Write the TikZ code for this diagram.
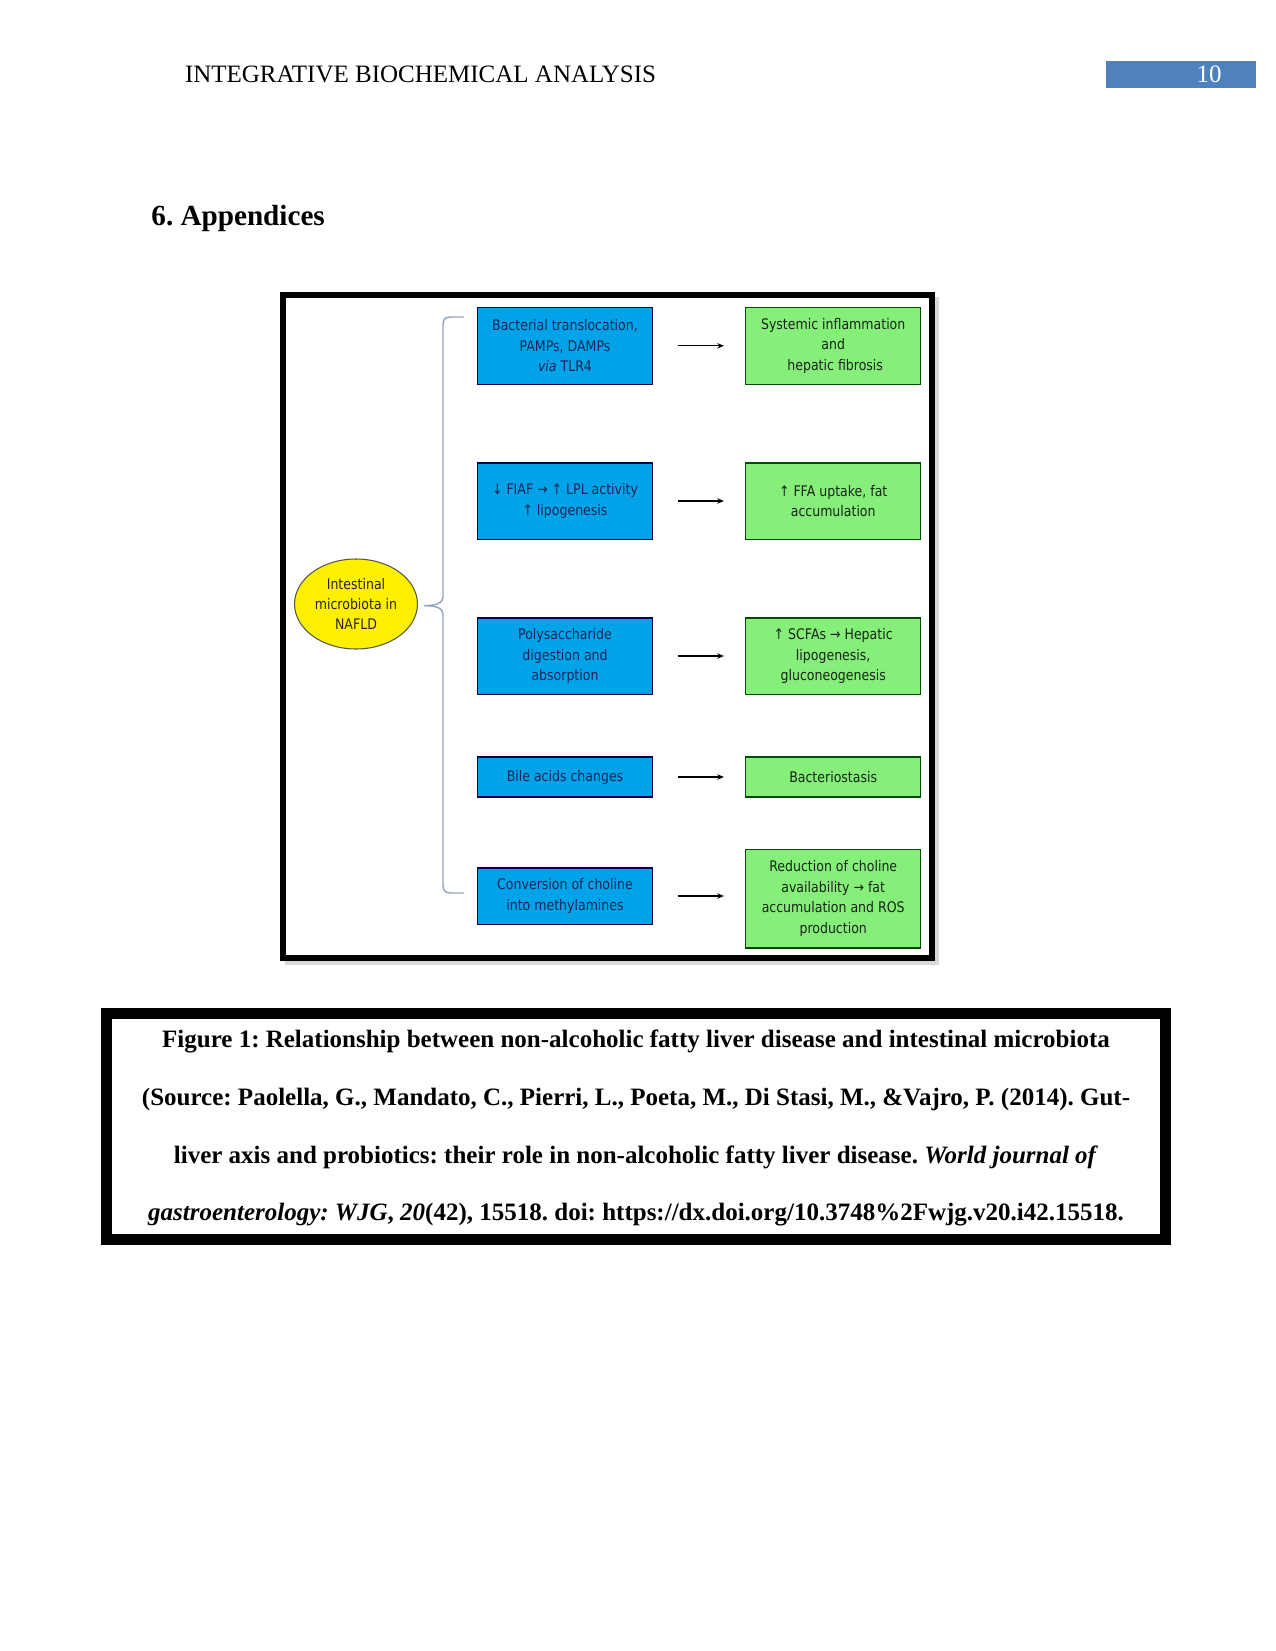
\documentclass[tikz,border=0pt]{standalone}
\usepackage{fontspec}
\setmainfont{Liberation Serif}
\newfontfamily\boxfont{DejaVu Sans}[FakeStretch=0.86]
\usetikzlibrary{shapes.geometric,arrows.meta}
\definecolor{boxblue}{RGB}{0,162,232}
\definecolor{boxgreen}{RGB}{134,239,122}
\definecolor{bluetext}{RGB}{24,38,88}
\definecolor{greentext}{RGB}{22,36,22}
\definecolor{hdrblue}{RGB}{79,129,189}
\definecolor{bracegray}{RGB}{150,165,190}
\definecolor{ellyellow}{RGB}{255,240,0}
\frenchspacing
\begin{document}
\begin{tikzpicture}[x=0.48pt,y=-0.48pt,
  boxtext/.style={font=\boxfont\fontsize{7.0}{9.8}\selectfont, align=center, inner sep=0pt},
  bluebox/.style={boxtext, draw=black!70!blue, line width=0.5pt, fill=boxblue, text=bluetext, minimum width=84pt},
  greenbox/.style={boxtext, draw=black!70!green, line width=0.5pt, fill=boxgreen, text=greentext, minimum width=83.8pt},
  arr/.style={-{Stealth[length=3.2pt,width=2.6pt]}, line width=0.6pt, shorten <=11.8pt, shorten >=10.3pt},
  captext/.style={font=\fontsize{12}{14}\selectfont\bfseries, anchor=base, inner sep=0pt}
]
\fill[white] (0,0) rectangle (1275,1651);
\useasboundingbox (0,0) rectangle (1275,1651);

% header
\node[anchor=base west, inner sep=0pt, font=\fontsize{12}{14}\selectfont] (hdr) at (184.6,82.7) {INTEGRATIVE BIOCHEMICAL ANALYSIS};
\fill[hdrblue] (1106,61) rectangle (1255.7,88.3);
\node[anchor=base, inner sep=0pt, text=white, font=\fontsize{12}{14}\selectfont] (pg) at (1209,82.7) {10};

% section title
\node[anchor=base west, inner sep=0pt, font=\fontsize{14}{16}\selectfont\bfseries] (sec) at (151,226) {6. Appendices};

% figure frame with shadow
\fill[black!15] (285,297) rectangle (939,965);
\draw[line width=2.88pt, fill=white] (283,295) rectangle (932,958);

% central ellipse
\node[ellipse, draw=black!75!yellow, line width=0.5pt, fill=ellyellow, minimum width=59pt, minimum height=43.2pt, inner sep=0pt, font=\boxfont\fontsize{7.0}{9.8}\selectfont, align=center, text=black!85] (ell) at (356,604) {Intestinal\\microbiota in\\NAFLD};

% brace
\draw[bracegray, line width=0.7pt] (464,317) -- (451,317) .. controls (445,317) and (443,319) .. (443,325) -- (443,597) .. controls (443,603) and (436,605.7) .. (424,605.7) .. controls (436,605.7) and (443,608) .. (443,614) -- (443,885) .. controls (443,891) and (445,893) .. (451,893) -- (464,893);

% boxes
\node[bluebox, minimum height=36.8pt] (b1) at (565,345.8) {Bacterial translocation,\\PAMPs, DAMPs\\\textit{via} TLR4};
\node[greenbox, minimum height=36.8pt] (g1) at (833.2,345.8) {Systemic inflammation\\and\\\ hepatic fibrosis};

\node[bluebox, minimum height=36.5pt] (b2) at (565,501) {↓ FIAF → ↑ LPL activity\\↑ lipogenesis};
\node[greenbox, minimum height=36.5pt] (g2) at (833.2,501) {↑ FFA uptake, fat\\accumulation};

\node[bluebox, minimum height=36.5pt] (b3) at (565,656) {Polysaccharide\\digestion and\\absorption};
\node[greenbox, minimum height=36.5pt] (g3) at (833.2,656) {↑ SCFAs → Hepatic\\lipogenesis,\\gluconeogenesis};

\node[bluebox, minimum height=19.2pt] (b4) at (565,777) {Bile acids changes};
\node[greenbox, minimum height=19.2pt] (g4) at (833.2,777) {Bacteriostasis};

\node[bluebox, minimum height=26.9pt] (b5) at (565,896) {Conversion of choline\\into methylamines};
\node[greenbox, minimum height=47.5pt] (g5) at (833.2,898.5) {Reduction of choline\\availability → fat\\accumulation and ROS\\production};

% arrows
\draw[arr] (b1) -- (g1);
\draw[arr] (b2) -- (g2);
\draw[arr] (b3) -- (g3);
\draw[arr] (b4) -- (g4);
\draw[arr] (b5.east) -- (b5.east -| g5.west);

% caption frame
\draw[line width=5.28pt] (106.5,1013.5) rectangle (1165.5,1239);
\node[captext] (c1) at (636,1047.5) {Figure 1: Relationship between non-alcoholic fatty liver disease and intestinal microbiota};
\node[captext] (c2) at (636,1105.3) {(Source: Paolella, G., Mandato, C., Pierri, L., Poeta, M., Di Stasi, M., \&Vajro, P. (2014). Gut-};
\node[captext] (c3) at (636,1163.1) {liver axis and probiotics: their role in non-alcoholic fatty liver disease. \textit{World journal of}};
\node[captext] (c4) at (636,1220.9) {\textit{gastroenterology: WJG}, \textit{20}(42), 15518. doi: https://dx.doi.org/10.3748\%2Fwjg.v20.i42.15518.};
\end{tikzpicture}
\end{document}
